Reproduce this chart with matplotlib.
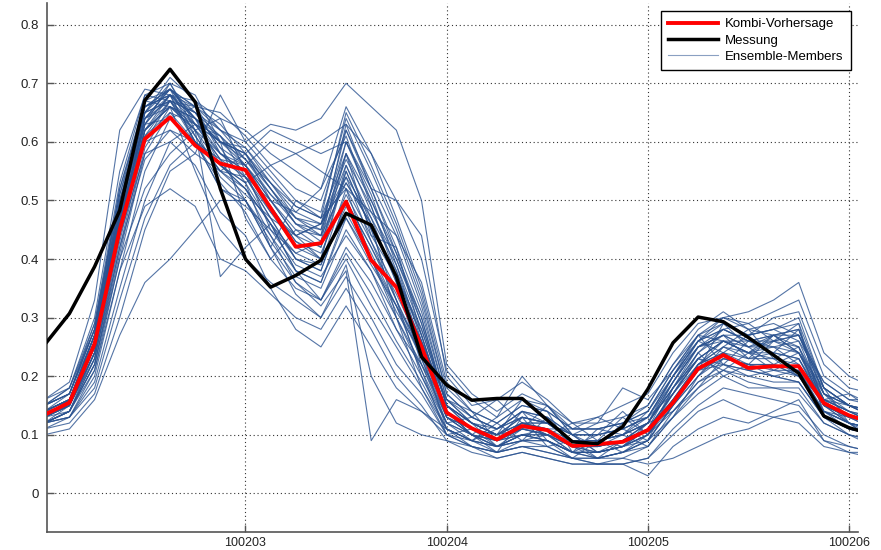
import numpy as np
import matplotlib
matplotlib.use("Agg")
import matplotlib.pyplot as plt

# DATA (3-hourly values, 2010-02-02 00:00 .. 2010-02-06 03:00, x = yymmdd.frac)

hours = np.arange(0, 102, 3)
times = 100202 + hours / 24.0

kombi = [0.134, 0.155, 0.255, 0.450, 0.605, 0.642, 0.594, 0.563, 0.552, 0.487,
         0.421, 0.427, 0.498, 0.398, 0.352, 0.250, 0.138, 0.111, 0.092, 0.115,
         0.108, 0.081, 0.084, 0.088, 0.108, 0.155, 0.213, 0.236, 0.214, 0.217,
         0.217, 0.154, 0.133, 0.120]

messung = [0.253, 0.307, 0.387, 0.483, 0.671, 0.724, 0.668, 0.520, 0.400, 0.352,
           0.372, 0.398, 0.478, 0.458, 0.370, 0.233, 0.185, 0.159, 0.162, 0.162,
           0.125, 0.088, 0.085, 0.114, 0.178, 0.257, 0.301, 0.293, 0.266, 0.236,
           0.205, 0.132, 0.112, 0.100]

members = [
    [.14,.16,.27,.50,.66,.68,.64,.60,.58,.52,.47,.46,.60,.50,.40,.30,.15,.12,.10,.13,.12,.09,.09,.10,.12,.18,.24,.27,.25,.25,.24,.16,.14,.13],
    [.13,.15,.24,.46,.64,.69,.66,.58,.55,.48,.42,.40,.55,.45,.38,.27,.14,.11,.09,.12,.11,.08,.08,.09,.11,.16,.22,.25,.23,.24,.23,.15,.13,.12],
    [.15,.17,.28,.52,.67,.66,.62,.56,.52,.46,.40,.38,.50,.42,.34,.25,.13,.10,.08,.10,.10,.07,.07,.08,.10,.17,.23,.22,.21,.22,.20,.14,.12,.11],
    [.12,.14,.22,.42,.60,.67,.65,.62,.60,.55,.50,.48,.64,.55,.45,.33,.17,.13,.11,.14,.13,.10,.10,.11,.13,.20,.26,.29,.27,.28,.30,.18,.15,.14],
    [.14,.16,.26,.48,.65,.70,.63,.57,.50,.43,.37,.35,.45,.38,.30,.22,.12,.10,.08,.09,.09,.07,.06,.07,.09,.15,.20,.24,.21,.20,.19,.13,.11,.10],
    [.13,.15,.25,.47,.63,.68,.67,.64,.62,.58,.55,.52,.66,.58,.47,.35,.18,.14,.12,.15,.14,.11,.11,.12,.15,.22,.28,.31,.28,.29,.27,.19,.16,.15],
    [.15,.18,.30,.55,.68,.67,.60,.53,.48,.40,.35,.33,.42,.36,.28,.20,.11,.09,.07,.08,.08,.06,.06,.06,.08,.14,.19,.21,.19,.18,.17,.12,.10,.09],
    [.12,.13,.20,.38,.55,.64,.66,.65,.61,.56,.52,.50,.62,.53,.44,.32,.16,.12,.10,.13,.12,.09,.09,.10,.14,.21,.27,.26,.24,.27,.28,.17,.15,.13],
    [.14,.16,.27,.49,.66,.69,.61,.55,.54,.50,.44,.42,.58,.48,.40,.29,.15,.11,.09,.11,.11,.08,.08,.09,.11,.17,.22,.25,.24,.25,.26,.16,.14,.12],
    [.13,.15,.24,.45,.62,.66,.64,.61,.57,.51,.46,.45,.56,.46,.36,.26,.14,.11,.10,.12,.10,.09,.09,.10,.12,.18,.24,.28,.26,.26,.25,.17,.14,.13],
    [.11,.13,.21,.40,.58,.65,.63,.60,.59,.54,.49,.47,.52,.44,.37,.28,.15,.12,.11,.13,.12,.10,.10,.11,.13,.19,.25,.27,.27,.28,.29,.18,.15,.14],
    [.14,.17,.29,.53,.68,.70,.62,.54,.50,.44,.38,.36,.48,.40,.32,.23,.12,.10,.08,.10,.09,.07,.07,.08,.09,.15,.21,.23,.22,.21,.21,.14,.12,.11],
    [.13,.15,.25,.47,.64,.68,.65,.59,.56,.50,.45,.44,.63,.52,.42,.31,.16,.13,.11,.14,.13,.10,.10,.11,.13,.20,.26,.30,.28,.27,.24,.17,.15,.14],
    [.12,.14,.23,.44,.62,.67,.66,.63,.58,.53,.48,.46,.54,.47,.39,.28,.15,.12,.10,.12,.11,.09,.08,.09,.12,.18,.23,.26,.25,.26,.27,.18,.15,.13],
    [.15,.17,.28,.51,.67,.69,.64,.58,.55,.49,.43,.41,.51,.43,.35,.26,.14,.11,.09,.11,.10,.08,.08,.09,.11,.16,.22,.24,.23,.23,.22,.15,.13,.12],
    [.13,.16,.26,.48,.65,.71,.67,.62,.59,.53,.49,.47,.65,.56,.46,.34,.17,.13,.11,.13,.12,.09,.09,.10,.12,.19,.25,.28,.26,.27,.28,.18,.15,.14],
    [.16,.19,.33,.62,.69,.68,.66,.60,.58,.62,.60,.58,.60,.52,.50,.44,.20,.15,.16,.19,.16,.12,.13,.15,.17,.24,.29,.30,.29,.31,.33,.22,.18,.17],
    [.11,.12,.17,.30,.45,.55,.58,.55,.52,.46,.38,.33,.40,.32,.25,.18,.10,.08,.07,.08,.07,.06,.05,.05,.06,.11,.15,.18,.17,.16,.15,.10,.08,.07],
    [.10,.11,.16,.27,.36,.40,.45,.50,.50,.42,.34,.30,.37,.30,.22,.17,.10,.08,.06,.07,.06,.05,.05,.05,.03,.08,.11,.13,.12,.14,.16,.09,.07,.06],
    [.14,.16,.27,.48,.60,.62,.58,.68,.60,.63,.62,.64,.70,.66,.62,.50,.22,.17,.14,.17,.15,.12,.12,.13,.15,.22,.27,.30,.31,.33,.36,.24,.20,.18],
    [.12,.14,.21,.38,.49,.52,.49,.40,.38,.34,.30,.28,.35,.28,.20,.15,.09,.07,.06,.07,.06,.05,.05,.05,.06,.10,.14,.16,.14,.13,.12,.08,.07,.07],
    [.13,.15,.24,.44,.58,.60,.56,.48,.44,.35,.28,.25,.32,.25,.18,.14,.10,.09,.08,.10,.09,.07,.06,.07,.09,.13,.17,.20,.18,.18,.18,.12,.10,.09],
    [.14,.16,.26,.46,.62,.66,.55,.45,.40,.36,.33,.30,.39,.20,.12,.10,.09,.08,.07,.09,.08,.06,.06,.07,.08,.13,.18,.21,.20,.19,.19,.13,.11,.10],
    [.12,.15,.23,.42,.57,.62,.60,.57,.56,.60,.58,.60,.63,.58,.50,.40,.21,.16,.13,.16,.15,.11,.11,.12,.14,.21,.27,.29,.27,.30,.31,.20,.17,.15],
    [.13,.14,.22,.40,.52,.58,.62,.64,.55,.45,.39,.37,.44,.38,.28,.22,.13,.11,.09,.10,.10,.08,.07,.08,.10,.15,.20,.23,.22,.22,.20,.14,.12,.11],
    [.13,.15,.25,.45,.61,.65,.60,.52,.50,.42,.36,.32,.38,.09,.16,.14,.11,.09,.08,.09,.09,.07,.07,.08,.10,.14,.19,.22,.21,.20,.19,.13,.11,.10],
    [.15,.18,.28,.50,.63,.64,.60,.56,.53,.56,.58,.55,.52,.48,.44,.36,.19,.14,.12,.15,.14,.11,.11,.12,.14,.20,.25,.27,.25,.27,.27,.17,.15,.13],
    [.12,.13,.19,.35,.50,.60,.63,.58,.54,.48,.44,.46,.53,.46,.30,.18,.11,.09,.08,.10,.09,.07,.07,.08,.11,.17,.23,.26,.26,.27,.24,.16,.14,.12],
    [.14,.16,.26,.48,.64,.67,.62,.37,.42,.46,.38,.36,.47,.40,.31,.24,.13,.10,.09,.11,.10,.08,.07,.08,.10,.16,.22,.24,.22,.22,.21,.14,.12,.11],
    [.13,.16,.27,.49,.66,.69,.64,.60,.58,.52,.46,.44,.58,.50,.41,.30,.15,.11,.09,.12,.11,.08,.08,.09,.11,.17,.23,.26,.24,.24,.23,.15,.13,.12],
    [.14,.16,.25,.46,.63,.68,.63,.57,.54,.47,.40,.38,.50,.42,.33,.24,.14,.10,.13,.20,.15,.10,.12,.18,.16,.21,.26,.28,.26,.25,.22,.16,.14,.12],
    [.12,.13,.18,.33,.47,.56,.60,.56,.52,.44,.36,.33,.41,.34,.26,.19,.11,.08,.07,.08,.07,.06,.05,.06,.05,.06,.08,.10,.11,.13,.14,.09,.08,.07],
    [.15,.17,.27,.47,.62,.66,.63,.60,.47,.40,.45,.42,.55,.45,.33,.20,.12,.13,.16,.12,.10,.12,.09,.07,.09,.18,.25,.27,.23,.27,.25,.14,.11,.10],
    [.13,.16,.26,.49,.66,.68,.60,.55,.58,.50,.48,.52,.61,.49,.37,.24,.11,.09,.12,.09,.13,.08,.10,.14,.10,.16,.21,.29,.25,.22,.24,.18,.12,.09],
    [.12,.14,.23,.43,.61,.67,.65,.59,.53,.42,.50,.47,.58,.44,.42,.27,.13,.10,.07,.13,.08,.09,.06,.09,.12,.20,.27,.22,.26,.24,.28,.15,.13,.11],
    [.14,.15,.24,.46,.64,.66,.62,.58,.56,.49,.43,.40,.56,.47,.36,.22,.15,.12,.10,.16,.14,.07,.11,.10,.08,.13,.20,.25,.28,.23,.20,.16,.17,.14],
    [.16,.18,.29,.51,.65,.67,.63,.61,.54,.47,.40,.39,.52,.40,.30,.21,.10,.11,.08,.11,.15,.10,.08,.12,.13,.17,.24,.20,.22,.26,.29,.13,.10,.08],
    [.13,.15,.25,.47,.63,.70,.68,.60,.57,.52,.46,.43,.60,.51,.39,.26,.16,.14,.09,.10,.11,.11,.13,.11,.09,.15,.22,.26,.24,.21,.23,.16,.15,.13],
    [.12,.14,.24,.45,.62,.68,.64,.56,.53,.46,.41,.39,.49,.41,.32,.21,.12,.09,.11,.14,.09,.06,.09,.08,.11,.19,.26,.24,.27,.28,.26,.19,.16,.16],
    [.14,.16,.25,.47,.64,.69,.65,.61,.56,.50,.44,.46,.57,.49,.38,.25,.14,.10,.09,.12,.12,.10,.07,.09,.12,.14,.18,.23,.22,.20,.21,.15,.12,.10],
    [.15,.17,.28,.52,.66,.68,.60,.52,.49,.45,.41,.43,.54,.43,.33,.23,.13,.11,.10,.11,.10,.07,.09,.13,.10,.18,.23,.21,.24,.26,.27,.17,.13,.11],
    [.13,.15,.26,.48,.65,.69,.66,.62,.57,.53,.47,.45,.62,.52,.41,.29,.15,.12,.10,.12,.12,.10,.07,.08,.12,.19,.25,.26,.24,.23,.25,.16,.12,.09],
    [.14,.16,.27,.50,.65,.67,.61,.55,.51,.47,.44,.40,.47,.39,.32,.25,.16,.12,.08,.09,.10,.08,.06,.07,.10,.16,.21,.22,.20,.21,.20,.14,.13,.12],
    [.12,.14,.22,.41,.59,.66,.64,.60,.56,.51,.47,.44,.53,.46,.37,.27,.14,.10,.09,.14,.12,.09,.08,.10,.13,.20,.26,.28,.29,.26,.24,.15,.12,.11],
]

xticks = [100203, 100204, 100205, 100206]
yticks = [0, 0.1, 0.2, 0.3, 0.4, 0.5, 0.6, 0.7, 0.8]

# PLOT

plt.rcParams['font.family'] = ['Liberation Sans', 'DejaVu Sans']

fig = plt.figure(figsize=(8.81, 5.5), dpi=100)
ax = fig.add_axes([0.0537, 0.032, 0.9203, 0.9625])

for m in members:
    h_ens, = ax.plot(times, m, color='#2a5290', lw=0.8, alpha=0.8, zorder=2)

h_red, = ax.plot(times, kombi, color='#ff0000', lw=2.8, zorder=3)
h_blk, = ax.plot(times, messung, color='black', lw=2.5, zorder=4)

ax.set_xlim(100202.015, 100206.045)
ax.set_ylim(-0.0666, 0.837)

ax.set_xticks(xticks)
ax.set_xticklabels([str(t) for t in xticks])
ax.set_yticks(yticks)
ax.set_yticklabels(['0'] + ['%.1f' % v for v in yticks[1:]])

ax.grid(True, color='#333333', linestyle=(0, (1, 2.5)), lw=0.8)
ax.set_axisbelow(True)

for s in ['top', 'right']:
    ax.spines[s].set_visible(False)
for s in ['left', 'bottom']:
    ax.spines[s].set_color('#555555')
    ax.spines[s].set_linewidth(1.2)

ax.tick_params(direction='in', length=5, width=1, colors='#555555',
               labelcolor='#222222', labelsize=9.5, pad=6)
ax.tick_params(axis='x', labelsize=9, pad=3)

leg = ax.legend([h_red, h_blk, h_ens], ['Kombi-Vorhersage', 'Messung', 'Ensemble-Members'],
                loc='upper right', bbox_to_anchor=(0.991, 0.985), borderaxespad=0,
                fontsize=9.5, fancybox=False, framealpha=1, edgecolor='black',
                handlelength=3.8, handletextpad=0.5, labelspacing=0.3, borderpad=0.55)
leg.get_frame().set_linewidth(1.0)
leg.legend_handles[2].set_alpha(0.55)

fig.savefig('out.png', dpi=100)
